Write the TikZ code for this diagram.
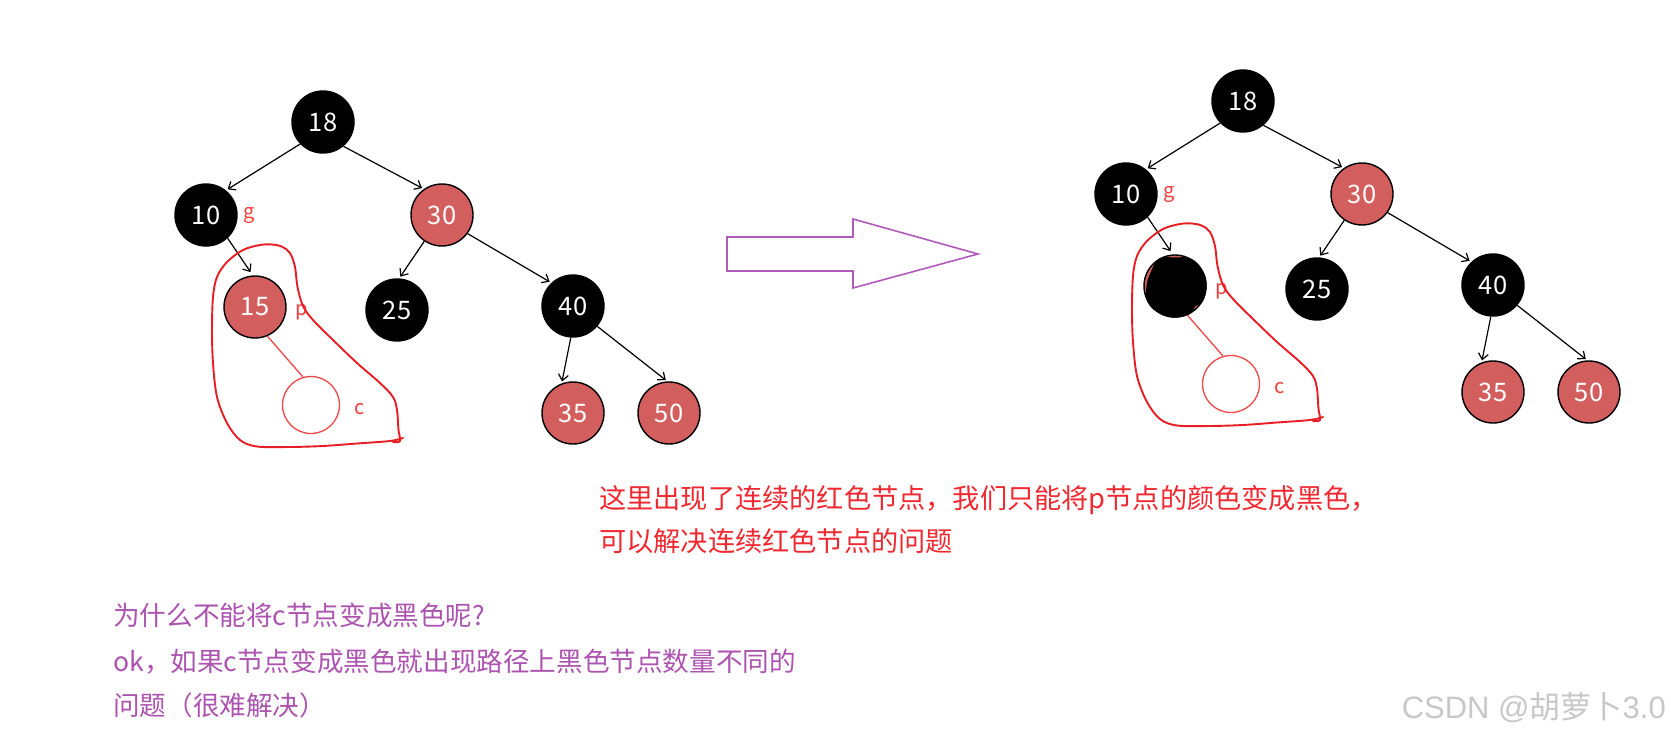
\documentclass[tikz,border=0pt]{standalone}
\usepackage{fontspec}
\newfontfamily\cjk{Noto Sans CJK SC}
\newfontfamily\wmfont{Liberation Sans}
\usetikzlibrary{arrows.meta}
\definecolor{nodered}{RGB}{211,94,94}
\definecolor{lassored}{RGB}{232,30,36}
\definecolor{lightred}{RGB}{240,70,70}
\definecolor{labred}{RGB}{245,60,60}
\definecolor{txtred}{RGB}{240,40,48}
\definecolor{txtpurple}{RGB}{172,84,176}
\definecolor{arrpurple}{RGB}{176,90,186}
\definecolor{wmgray}{RGB}{200,200,200}
\tikzset{
 tnode/.style={circle,draw=black,line width=1.4pt,minimum size=62pt,inner sep=0pt,text=white,font=\cjk\fontsize{25.5}{30}\selectfont},
 blk/.style={tnode,fill=black},
 rd/.style={tnode,fill=nodered},
 cnode/.style={circle,draw=lightred,line width=1.3pt,minimum size=57pt,inner sep=0pt},
 lbl/.style={text=labred,font=\cjk\fontsize{20}{24}\selectfont,inner sep=0pt},
 edge/.style={draw=black,line width=1.2pt,-{Straight Barb[length=6pt,width=10pt]},shorten >=2pt},
 redline/.style={draw=lightred,line width=1.3pt},
 lasso/.style={draw=lassored,line width=1.9pt,line join=round,line cap=round},
 bigarrow/.style={draw=arrpurple,line width=1.6pt,fill=white},
 redtxt/.style={text=txtred,font=\cjk\fontsize{27.2}{30}\selectfont,anchor=base west,inner sep=0pt},
 purtxt/.style={text=txtpurple,font=\cjk\fontsize{26.6}{30}\selectfont,anchor=base west,inner sep=0pt},
 wm/.style={text=wmgray,font=\wmfont\fontsize{31}{36}\selectfont,anchor=base east,inner sep=0pt},
}
\newcommand\mytree[4]{%
\begin{scope}[shift={(#1)},name prefix=#2-]
\node[blk] (n18) at (323,122) {18};
\node[blk] (n10) at (206,215) {10};
\node[rd] (n30) at (442,215) {30};
\node[#3] (n15) at (255,307) {#4};
\node[blk] (n25) at (397,310) {25};
\node[blk] (n40) at (573,306) {40};
\node[rd] (n35) at (573,413) {35};
\node[rd] (n50) at (669,413) {50};
\node[cnode] (nc) at (311,405) {};
\node[lbl] (lg) at (249,215) {g};
\node[lbl] (lp) at (302,312) {p};
\node[lbl] (lc) at (360,409) {c};
\draw[edge] (n18.224) -- (n10.51);
\draw[edge] (n18.310) -- (n30.125);
\draw[edge,shorten >=4pt] (n10.313) -- (n15.94);
\draw[edge] (n30.236) -- (n25.86);
\draw[edge] (n30.324) -- (n40.133);
\draw[edge] (n40.266) -- (n35.111);
\draw[edge] (n40.320) -- (n50.93);
\draw[redline] (n15.293) -- (nc.106);
\draw[lasso] plot[smooth,tension=0.55] coordinates {(403,438) (390,441) (357,443.5) (323,446) (290,447) (257,446.5) (240,440) (227,423) (217,397) (213,363) (212,330) (213,297) (217,277) (227,262) (243,250) (260,245) (272,244.5) (282,246.7) (290,253) (295,267) (297.5,287) (303,306) (313,320) (333,340) (357,363) (380,383) (393,397) (397,410) (398.5,430) (400,441) (393,442)};
\end{scope}}
\begin{document}
\begin{tikzpicture}[x=1pt,y=-1pt]
\useasboundingbox (0,0) rectangle (1671,738);
\fill[white] (0,0) rectangle (1671,738);
\mytree{0,0}{L}{rd}{15}
\mytree{920,-21}{R}{rd}{}
\begin{scope}[shift={(920,-21)}]
\fill[black] plot[smooth cycle,tension=0.7] coordinates {(286.7,307) (282.5,291.1) (270.8,279.6) (255,278.5) (239.2,279.6) (230.8,293) (226.5,307) (227.5,322.9) (239.2,334.4) (255,338.7) (270.8,334.4) (275.2,327.2) (282.5,322.9)};
\end{scope}
\draw[bigarrow] (727,237) -- (853,237) -- (853,219) -- (978,254) -- (853,288) -- (853,271) -- (727,271) -- cycle;
\node[redtxt] (t1) at (599,508) {这里出现了连续的红色节点，我们只能将p节点的颜色变成黑色，};
\node[redtxt] (t2) at (599,551) {可以解决连续红色节点的问题};
\node[purtxt] (q1) at (113,625) {为什么不能将c节点变成黑色呢?};
\node[purtxt] (q2) at (113,671) {ok，如果c节点变成黑色就出现路径上黑色节点数量不同的};
\node[purtxt] (q3) at (113,715) {问题（很难解决）};
\node[wm] (wm) at (1666,718) {CSDN @{\cjk 胡萝卜}3.0};
\end{tikzpicture}
\end{document}
